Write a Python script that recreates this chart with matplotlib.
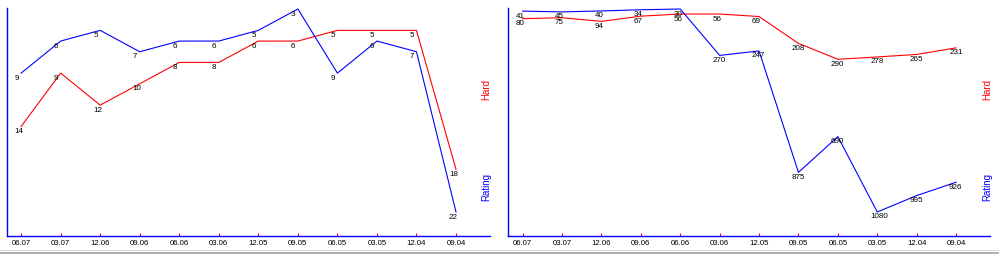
import matplotlib
matplotlib.use("Agg")
import matplotlib.pyplot as plt
from matplotlib.patches import Rectangle

plt.rcParams['font.family'] = ['Liberation Sans', 'DejaVu Sans']

dates = ["06.07", "03.07", "12.06", "09.06", "06.06", "03.06",
         "12.05", "09.05", "06.05", "03.05", "12.04", "09.04"]

# Left panel
left_hard = [14, 9, 12, 10, 8, 8, 6, 6, 5, 5, 5, 18]
left_rating = [9, 6, 5, 7, 6, 6, 5, 3, 9, 6, 7, 22]

# Right panel
right_hard = [80, 75, 94, 67, 56, 56, 69, 208, 290, 278, 265, 231]
right_rating = [41, 45, 40, 34, 30, 270, 247, 875, 690, 1080, 995, 926]

W, H = 999, 254
fig = plt.figure(figsize=(W / 100, H / 100), dpi=100)

RED = "#ff0000"
BLUE = "#0000ff"


def make_panel(x0, x1, hard, rating):
    top_px, bot_px = 8, 236
    ax = fig.add_axes([x0 / W, (H - bot_px) / H, (x1 - x0) / W, (bot_px - top_px) / H])
    xs = list(range(len(dates)))
    ax.plot(xs, hard, color=RED, lw=0.8, clip_on=False)
    ax.plot(xs, rating, color=BLUE, lw=0.8, clip_on=False)
    allv = hard + rating
    vmin, vmax = min(allv), max(allv)
    hpx = bot_px - top_px
    span = (vmax - vmin) * hpx / 203.0
    ytop = vmin - span / hpx
    ax.set_ylim(ytop + span, ytop)
    ax.set_xlim(-0.37, 11.86)
    for series in (hard, rating):
        for x, v in zip(xs, series):
            ax.annotate(str(v), (x, v), xytext=(-7, -5), textcoords="offset pixels",
                        ha="left", va="center", fontsize=5.8, color="black",
                        annotation_clip=False)
    ax.set_xticks(xs)
    ax.set_xticklabels(dates, fontsize=5.6)
    ax.tick_params(axis="x", direction="in", length=2.4, width=0.8, colors=RED,
                   labelcolor="black", pad=3.2)
    ax.set_yticks([])
    for s in ("top", "right"):
        ax.spines[s].set_visible(False)
    for s in ("left", "bottom"):
        ax.spines[s].set_color(BLUE)
        ax.spines[s].set_linewidth(1.0)
    ax.patch.set_visible(False)
    return ax


make_panel(6.5, 490, left_hard, left_rating)
make_panel(508, 990, right_hard, right_rating)

for xc in (486, 987.5):
    fig.text(xc / W, 1 - 90 / H, "Hard", rotation=90, color=RED, fontsize=7,
             ha="center", va="center")
    fig.text(xc / W, 1 - 187 / H, "Rating", rotation=90, color=BLUE, fontsize=7,
             ha="center", va="center")

# bottom bar
fig.patches.append(Rectangle((0, 1 - 251 / H), 1, 1.3 / H, transform=fig.transFigure,
                             facecolor="#dcdcdc", edgecolor="none"))
fig.patches.append(Rectangle((0, 0), 1, 2.4 / H, transform=fig.transFigure,
                             facecolor="#b0b0b0", edgecolor="none"))

fig.savefig("out.png", dpi=100)
